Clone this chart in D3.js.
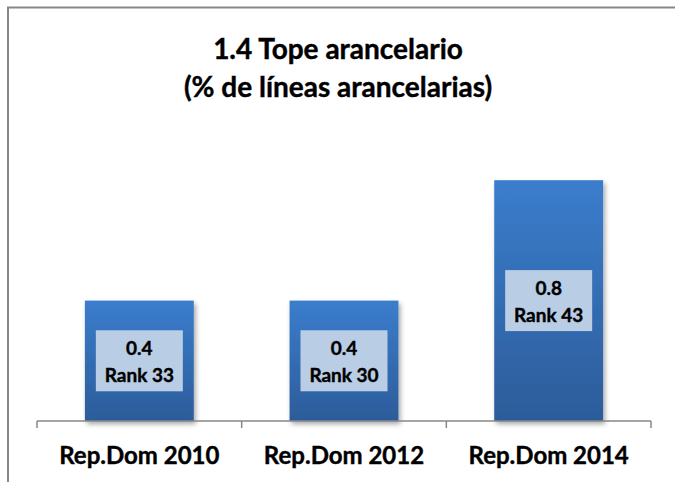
<!DOCTYPE html>
<html>
<head>
<meta charset="utf-8">
<script src="https://cdn.jsdelivr.net/npm/d3@7"></script>
<style>
  body { margin: 0; background: #fff; }
  text { font-family: Lato, "Open Sans", sans-serif; font-weight: bold; fill: #000; stroke: #000; stroke-width: 0.4px; }
</style>
</head>
<body>
<div id="chart"></div>
<script>
// data
const categories = ["Rep.Dom 2010", "Rep.Dom 2012", "Rep.Dom 2014"];
const values = [0.4, 0.4, 0.8];
const ranks = ["Rank 33", "Rank 30", "Rank 43"];
const titleLines = ["1.4 Tope arancelario", "(% de líneas arancelarias)"];

const W = 675, H = 482;
const plot = { left: 37, right: 651, top: 120, bottom: 421 };

const svg = d3.select("#chart").append("svg")
    .attr("width", W)
    .attr("height", H);

// gradient + shadow
const defs = svg.append("defs");
const grad = defs.append("linearGradient")
    .attr("id", "barGrad")
    .attr("x1", 0).attr("y1", 0).attr("x2", 0).attr("y2", 1);
grad.append("stop").attr("offset", "0%").attr("stop-color", "#3b7dcd");
grad.append("stop").attr("offset", "100%").attr("stop-color", "#2c5c9a");

const shadow = defs.append("filter").attr("id", "shadow")
    .attr("x", "-20%").attr("y", "-10%").attr("width", "140%").attr("height", "130%");
shadow.append("feDropShadow")
    .attr("dx", 2).attr("dy", 3).attr("stdDeviation", 2.5)
    .attr("flood-color", "#000").attr("flood-opacity", 0.35);

// frame (cut at right and bottom like the original)
svg.append("rect")
    .attr("x", 8).attr("y", 7.5)
    .attr("width", W + 10).attr("height", H + 10)
    .attr("fill", "none")
    .attr("stroke", "#878787")
    .attr("stroke-width", 2);

// scales
const x = d3.scaleBand()
    .domain(categories)
    .range([plot.left, plot.right])
    .paddingInner(0.468)
    .paddingOuter(0.234);

const y = d3.scaleLinear()
    .domain([0, 1])
    .range([plot.bottom, plot.top]);

// bars
svg.selectAll(".bar")
    .data(values)
    .enter()
    .append("rect")
    .attr("class", "bar")
    .attr("x", (d, i) => x(categories[i]))
    .attr("y", d => y(d))
    .attr("width", x.bandwidth())
    .attr("height", d => y(0) - y(d))
    .attr("fill", "url(#barGrad)")
    .attr("filter", "url(#shadow)");

// axis line with ticks between categories
const step = (plot.right - plot.left) / categories.length;
const axis = svg.append("g").attr("stroke", "#878787").attr("stroke-width", 1.5);
axis.append("line")
    .attr("x1", plot.left).attr("x2", plot.right)
    .attr("y1", plot.bottom).attr("y2", plot.bottom);
d3.range(categories.length + 1).forEach(i => {
    const tx = plot.left + i * step;
    axis.append("line")
        .attr("x1", tx).attr("x2", tx)
        .attr("y1", plot.bottom).attr("y2", plot.bottom + 7);
});

// category labels
svg.selectAll(".cat")
    .data(categories)
    .enter()
    .append("text")
    .attr("class", "cat")
    .attr("x", d => x(d) + x.bandwidth() / 2)
    .attr("y", 464)
    .attr("text-anchor", "middle")
    .style("font-size", "24px")
    .text(d => d);

// data labels
const lab = svg.selectAll(".lab")
    .data(values)
    .enter()
    .append("g")
    .attr("class", "lab")
    .attr("transform", (d, i) =>
        `translate(${x(categories[i]) + x.bandwidth() / 2},${(y(d) + y(0)) / 2})`);

lab.append("rect")
    .attr("x", -43.5).attr("y", -30.5)
    .attr("width", 87).attr("height", 61)
    .attr("fill", "#b9cde5")
    .attr("stroke", "none");

lab.append("text")
    .attr("y", -6)
    .attr("text-anchor", "middle")
    .style("font-size", "19px")
    .text(d => d.toFixed(1));

lab.append("text")
    .attr("y", 21)
    .attr("text-anchor", "middle")
    .style("font-size", "19px")
    .text((d, i) => ranks[i]);

// title
svg.append("g")
    .selectAll("text")
    .data(titleLines)
    .enter()
    .append("text")
    .attr("x", 338)
    .attr("y", (d, i) => 59 + i * 38)
    .attr("text-anchor", "middle")
    .style("font-size", "28px")
    .text(d => d);
</script>
</body>
</html>
